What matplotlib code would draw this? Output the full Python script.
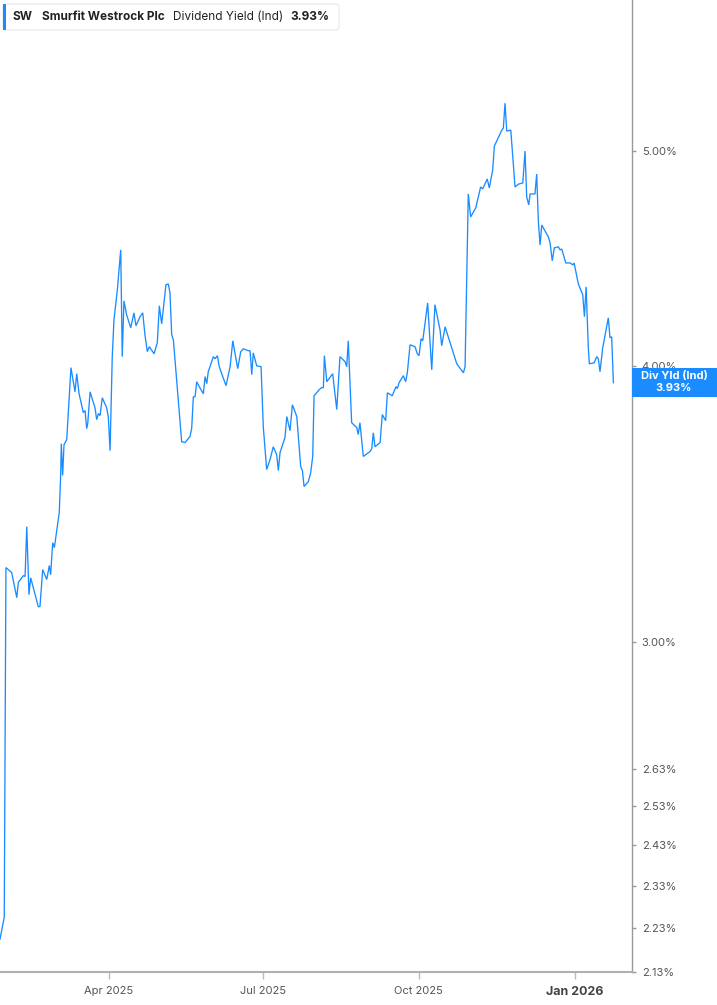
import matplotlib
matplotlib.use("Agg")
import matplotlib.pyplot as plt
import matplotlib.dates as mdates
from matplotlib.patches import FancyBboxPatch, Rectangle
import numpy as np
import pandas as pd

# ---- data ----
start_date = "2025-01-27"
days = [-0.4, 2.1, 3.1, 6.5, 9.5, 10.4, 13.4, 14.4, 15.4, 16.7, 17.7, 22.2, 23.2, 24.8, 27.2,
        28.7, 29.5, 30.7, 31.7, 34.6, 35.4, 35.8, 36.6, 37.4, 39.0, 41.5, 43.9, 44.9, 46.3,
        48.8, 49.8, 50.8, 51.4, 52.8, 55.7, 56.7, 57.7, 58.7, 60.0, 62.6, 63.6, 64.6, 65.9,
        66.9, 68.9, 70.9, 71.8, 72.8, 74.4, 76.8, 78.7, 79.9, 82.3, 83.9, 85.2, 86.6, 87.8,
        90.6, 92.5, 93.7, 95.1, 97.6, 99.0, 100.0, 101.0, 102.0, 106.9, 108.9, 111.8, 112.8,
        113.8, 114.8, 115.8, 117.3, 119.7, 120.7, 121.7, 122.6, 125.6, 126.6, 128.0, 129.1,
        133.1, 135.5, 137.1, 140.0, 141.8, 143.3, 146.3, 147.3, 148.3, 149.2, 151.2, 153.8,
        155.1, 157.1, 159.1, 161.0, 163.0, 164.0, 165.0, 167.9, 169.0, 170.9, 172.3, 174.9,
        177.2, 178.2, 179.2, 181.7, 183.1, 184.3, 185.1, 188.2, 189.6, 190.6, 191.2, 192.6,
        196.1, 198.5, 200.4, 203.4, 204.4, 205.3, 207.3, 210.3, 211.2, 212.2, 214.2, 218.2,
        219.2, 220.1, 221.1, 224.1, 225.4, 227.4, 228.4, 231.3, 233.5, 234.3, 235.3, 237.8,
        239.2, 240.2, 241.8, 244.7, 246.1, 247.1, 248.3, 249.3, 252.2, 254.6, 256.5, 259.5,
        260.5, 262.5, 266.4, 269.4, 273.3, 274.3, 276.2, 277.6, 280.6, 283.5, 284.7, 287.4,
        288.6, 290.6, 291.6, 296.0, 296.9, 297.9, 298.9, 301.3, 303.8, 305.8, 308.4, 309.7,
        310.7, 311.9, 312.7, 315.6, 316.6, 317.6, 318.6, 319.6, 323.5, 324.5, 325.8, 327.0,
        329.4, 330.4, 331.4, 333.8, 336.3, 337.9, 338.7, 341.2, 343.8, 344.8, 345.8, 347.1,
        347.7, 350.5, 352.1, 353.0, 354.0, 355.6, 358.9, 359.9, 360.9, 361.9]
yield_pct = [2.204, 2.255, 3.243, 3.226, 3.143, 3.193, 3.216, 3.213, 3.384, 3.153, 3.209, 3.114,
             3.114, 3.236, 3.203, 3.250, 3.219, 3.328, 3.311, 3.434, 3.565, 3.689, 3.569, 3.685,
             3.704, 3.992, 3.893, 3.967, 3.885, 3.810, 3.818, 3.747, 3.766, 3.893, 3.829, 3.782,
             3.806, 3.798, 3.869, 3.829, 3.790, 3.662, 4.038, 4.195, 4.328, 4.512, 4.038, 4.279,
             4.217, 4.161, 4.226, 4.170, 4.209, 4.226, 4.131, 4.059, 4.080, 4.050, 4.097, 4.257,
             4.178, 4.351, 4.355, 4.315, 4.131, 4.109, 3.696, 3.693, 3.716, 3.747, 3.873, 3.873,
             3.934, 3.914, 3.885, 3.955, 3.926, 3.975, 4.038, 4.029, 4.042, 3.996, 3.918, 3.996,
             4.105, 3.988, 4.059, 4.071, 4.063, 4.063, 3.963, 4.054, 4.000, 3.996, 3.755, 3.591,
             3.628, 3.677, 3.647, 3.587, 3.655, 3.712, 3.794, 3.739, 3.841, 3.794, 3.602, 3.587,
             3.528, 3.546, 3.579, 3.640, 3.877, 3.902, 3.910, 3.910, 4.042, 3.934, 3.967, 3.822,
             4.038, 4.017, 3.996, 4.105, 3.770, 3.751, 3.724, 3.770, 3.640, 3.659, 3.670, 3.731,
             3.677, 3.693, 3.802, 3.778, 3.889, 3.877, 3.914, 3.906, 3.930, 3.959, 3.934, 3.971,
             4.088, 4.080, 4.050, 4.042, 4.114, 4.105, 4.270, 3.983, 4.262, 4.152, 4.084, 4.165,
             4.075, 4.008, 3.971, 3.996, 4.782, 4.669, 4.713, 4.817, 4.807, 4.857, 4.812, 4.902,
             5.026, 5.110, 5.121, 5.255, 5.105, 5.110, 4.817, 4.831, 4.837, 5.000, 4.767, 4.728,
             4.782, 4.782, 4.882, 4.645, 4.535, 4.630, 4.573, 4.545, 4.461, 4.521, 4.526, 4.512,
             4.516, 4.451, 4.451, 4.442, 4.451, 4.355, 4.306, 4.209, 4.342, 4.075, 4.008, 4.012,
             4.038, 4.029, 3.975, 4.075, 4.204, 4.118, 4.122, 3.930]
ytick_vals = [2.13, 2.23, 2.33, 2.43, 2.53, 2.63, 3.00, 4.00, 5.00]
xtick_dates = ["2025-04-01", "2025-07-01", "2025-10-01", "2026-01-01"]
xtick_labels = ["Apr 2025", "Jul 2025", "Oct 2025", "Jan 2026"]
ticker = "SW"
company = "Smurfit Westrock Plc"
metric = "Dividend Yield (Ind)"
last_value = "3.93%"
badge_title = "Div Yld (Ind)"

# ---- plot ----
BLUE = "#1a8cff"
plt.rcParams['font.family'] = ['Inter', 'DejaVu Sans']

fig = plt.figure(figsize=(7.17, 10.05), dpi=100)
ax = fig.add_axes([0.0, 1 - 972 / 1005, 632 / 717, 972 / 1005])

t0 = pd.Timestamp(start_date)
dates = [t0 + pd.Timedelta(days=d) for d in days]
ax.plot(dates, yield_pct, color=BLUE, lw=0.95, solid_joinstyle='miter')

ax.set_yscale('log')
ax.set_ylim(2.13, 5.85)
ax.set_xlim(t0 + pd.Timedelta(days=-0.41), t0 + pd.Timedelta(days=372.9))

ax.yaxis.tick_right()
ax.set_yticks(ytick_vals)
ax.set_yticklabels([f"{v:.2f}%" for v in ytick_vals])
ax.yaxis.set_minor_locator(matplotlib.ticker.NullLocator())
ax.tick_params(axis='y', which='major', length=3, width=1, color='#999999',
               labelsize=8, labelcolor='#555555', pad=4)

xt = [pd.Timestamp(d) for d in xtick_dates]
ax.set_xticks(xt)
ax.set_xticklabels(xtick_labels)
ax.tick_params(axis='x', which='major', length=5, width=1, color='#bbbbbb',
               labelsize=8, labelcolor='#555555', pad=5)
lbls = ax.get_xticklabels()
lbls[-1].set_fontweight('bold')
lbls[-1].set_fontsize(9)
lbls[-1].set_color('#444444')

for s in ['top', 'left']:
    ax.spines[s].set_visible(False)
ax.spines['right'].set_color('#999999')
ax.spines['right'].set_linewidth(1.0)
ax.spines['bottom'].set_color('#b0b0b0')
ax.spines['bottom'].set_linewidth(1.5)

# header legend box
W, H = 717, 1005
hdr = FancyBboxPatch((3 / W, 1 - 30 / H), 336 / W, 26 / H,
                     boxstyle="round,pad=0,rounding_size=0.004",
                     transform=fig.transFigure, facecolor='white',
                     edgecolor='#e6e6e6', lw=0.8, zorder=5)
fig.patches.append(hdr)
fig.patches.append(Rectangle((3 / W, 1 - 30 / H), 3 / W, 26 / H, transform=fig.transFigure,
                             facecolor=BLUE, edgecolor='none', zorder=6))
yh = 1 - 17 / H
HF = 8.5
fig.text(13 / W, yh, ticker, fontsize=HF, fontweight='bold', color='#222222', va='center', zorder=7)
fig.text(42 / W, yh, company, fontsize=HF, fontweight='bold', color='#222222', va='center', zorder=7)
fig.text(173 / W, yh, metric, fontsize=HF, color='#222222', va='center', zorder=7)
fig.text(290 / W, yh, last_value, fontsize=HF, fontweight='bold', color='#222222', va='center', zorder=7)

# right badge
fig.patches.append(Rectangle((632 / W, 1 - 397 / H), 85 / W, 29 / H, transform=fig.transFigure,
                             facecolor=BLUE, edgecolor='none', zorder=10))
fig.text(674 / W, 1 - 376 / H, badge_title, fontsize=8, fontweight='bold', color='white',
         ha='center', va='center', zorder=11)
fig.text(674 / W, 1 - 388 / H, last_value, fontsize=8, fontweight='bold', color='white',
         ha='center', va='center', zorder=11)

fig.savefig("out.png", dpi=100)
